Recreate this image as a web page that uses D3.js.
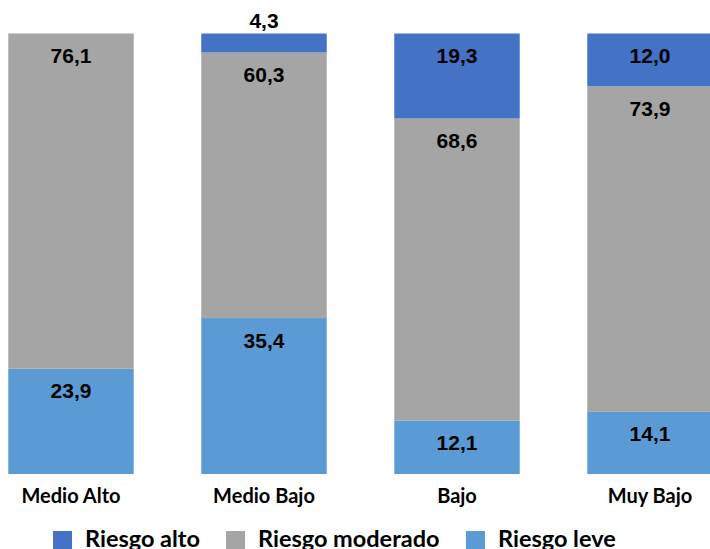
<!DOCTYPE html>
<html>
<head>
<meta charset="utf-8">
<script src="https://cdn.jsdelivr.net/npm/d3@7"></script>
<style>
  body { margin: 0; background: #fff; }
  svg { display: block; }
</style>
</head>
<body>
<div id="chart"></div>
<script>
// categories and series (percent)
const categories = ["Medio Alto", "Medio Bajo", "Bajo", "Muy Bajo"];
const seriesNames = ["Riesgo leve", "Riesgo moderado", "Riesgo alto"];
const riesgoLeve = [23.9, 35.4, 12.1, 14.1];
const riesgoModerado = [76.1, 60.3, 68.6, 73.9];
const riesgoAlto = [0, 4.3, 19.3, 12.0];
const legendOrder = ["Riesgo alto", "Riesgo moderado", "Riesgo leve"];

const colors = {
  "Riesgo alto": "#4472C4",
  "Riesgo moderado": "#A5A5A5",
  "Riesgo leve": "#5B9BD5"
};

const width = 710, height = 549;

const rows = categories.map((c, i) => ({
  cat: c,
  "Riesgo leve": riesgoLeve[i],
  "Riesgo moderado": riesgoModerado[i],
  "Riesgo alto": riesgoAlto[i]
}));

const stack = d3.stack().keys(seriesNames)(rows);

const svg = d3.select("#chart").append("svg")
  .attr("width", width)
  .attr("height", height);

const x = d3.scaleBand()
  .domain(categories)
  .range([-25.5, 746.5])
  .paddingInner(0.35)
  .paddingOuter(0.175);

const y = d3.scaleLinear()
  .domain([0, 100])
  .range([474, 33.5]);

const layers = svg.selectAll("g.layer")
  .data(stack)
  .join("g")
  .attr("class", "layer")
  .attr("fill", d => colors[d.key]);

layers.selectAll("rect")
  .data(d => d.filter(p => p[1] - p[0] > 0))
  .join("rect")
  .attr("x", d => x(d.data.cat))
  .attr("width", x.bandwidth())
  .attr("y", d => y(d[1]))
  .attr("height", d => y(d[0]) - y(d[1]));

// value labels near top of each segment
layers.selectAll("text")
  .data(d => d.filter(p => p[1] - p[0] > 0).map(p => ({ p, key: d.key })))
  .join("text")
  .attr("x", d => x(d.p.data.cat) + x.bandwidth() / 2)
  .attr("y", d => {
    const h = y(d.p[0]) - y(d.p[1]);
    return h < 30 ? y(d.p[1]) - 5.5 : y(d.p[1]) + 29.5;
  })
  .attr("text-anchor", "middle")
  .attr("fill", "#000")
  .style("font-family", "'Liberation Sans', Arial, sans-serif")
  .style("font-weight", "bold")
  .style("font-size", "21px")
  .text(d => d3.format(".1f")(d.p[1] - d.p[0]).replace(".", ","));

// category labels
svg.append("g")
  .selectAll("text")
  .data(categories)
  .join("text")
  .attr("x", d => x(d) + x.bandwidth() / 2)
  .attr("y", 503)
  .attr("text-anchor", "middle")
  .style("font-family", "Lato, 'Open Sans', sans-serif")
  .style("font-weight", "bold")
  .style("font-size", "20px")
  .attr("fill", "#000")
  .text(d => d);

// legend
const legendX = [53, 226, 466];
const legend = svg.append("g")
  .selectAll("g")
  .data(legendOrder)
  .join("g")
  .attr("transform", (d, i) => `translate(${legendX[i]},531)`);

legend.append("rect")
  .attr("width", 19)
  .attr("height", 19)
  .attr("fill", d => colors[d]);

legend.append("text")
  .attr("x", 32)
  .attr("y", 15.5)
  .style("font-family", "Lato, 'Open Sans', sans-serif")
  .style("font-weight", "bold")
  .style("font-size", "23.5px")
  .attr("fill", "#000")
  .text(d => d);
</script>
</body>
</html>
